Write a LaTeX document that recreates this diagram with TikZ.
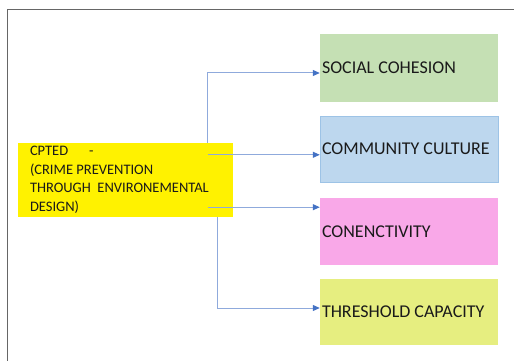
\documentclass[tikz,border=0pt]{standalone}
\usepackage{fontspec}
\setmainfont{Carlito}
\usepackage{xcolor}
\usepackage{tikz}
\usetikzlibrary{arrows.meta, positioning, calc}
\definecolor{cohgreen}{HTML}{C5E0B4}
\definecolor{culblue}{HTML}{BDD7EE}
\definecolor{culedge}{HTML}{9DC3E6}
\definecolor{conpink}{HTML}{F9A8E8}
\definecolor{thrlime}{HTML}{E6EE80}
\definecolor{linkblue}{HTML}{8FAADC}
\definecolor{tipblue}{HTML}{4472C4}
\definecolor{inktext}{HTML}{1A1A1A}

\begin{document}
\begin{tikzpicture}[
    x=1pt,y=1pt,
    factor/.style={minimum width=178pt,text width=174pt,inner xsep=2pt,
      align=flush left,font=\fontsize{18}{22}\selectfont,text=inktext},
    cptedbox/.style={fill=yellow,minimum height=74pt,text width=191pt,
      inner xsep=12pt,align=flush left,text=inktext,
      font=\fontsize{14.5}{18.5}\selectfont},
    link/.style={draw=linkblue,line width=1pt,
      -{Triangle[length=7pt,width=6pt,color=tipblue]}},
    frameline/.style={draw=black!60,line width=1pt}
  ]
  \useasboundingbox (0,0) rectangle (514,-361);

  % page frame (left and top only)
  \draw[frameline] (7.5,-361) -- (7.5,-9.5) -- (514,-9.5);

  % central concept
  \node[cptedbox] (cpted) at (125.5,-180)
    {CPTED\hspace{21pt}-\\(CRIME PREVENTION\\THROUGH\ \ ENVIRONEMENTAL\\DESIGN)};

  % factor boxes (right column)
  \node[factor,fill=cohgreen,minimum height=68pt] (cohesion) at (409,-68)
    {SOCIAL COHESION};
  \node[factor,fill=culblue,draw=culedge,minimum height=66pt] (culture) at (409,-149)
    {COMMUNITY CULTURE};
  \node[factor,fill=conpink,minimum height=67pt] (connect) at (409,-231.5)
    {CONENCTIVITY};
  \node[factor,fill=thrlime,minimum height=66pt] (threshold) at (409,-312)
    {THRESHOLD CAPACITY};

  % arrow start points on the central box
  \coordinate (top) at ([xshift=81.5pt]cpted.north);
  \coordinate (mid) at ([xshift=190pt,yshift=-12pt]cpted.north west);
  \coordinate (low) at ([xshift=190pt,yshift=10pt]cpted.south west);
  \coordinate (bot) at ([xshift=91.5pt]cpted.south);

  % links
  \draw[link] (top) |- ([yshift=-5pt]cohesion.west);
  \draw[link] (mid) -- (mid -| culture.west);
  \draw[link] (low) -- (low -| connect.west);
  \draw[link] (bot) |- ([yshift=4pt]threshold.west);
\end{tikzpicture}
\end{document}
